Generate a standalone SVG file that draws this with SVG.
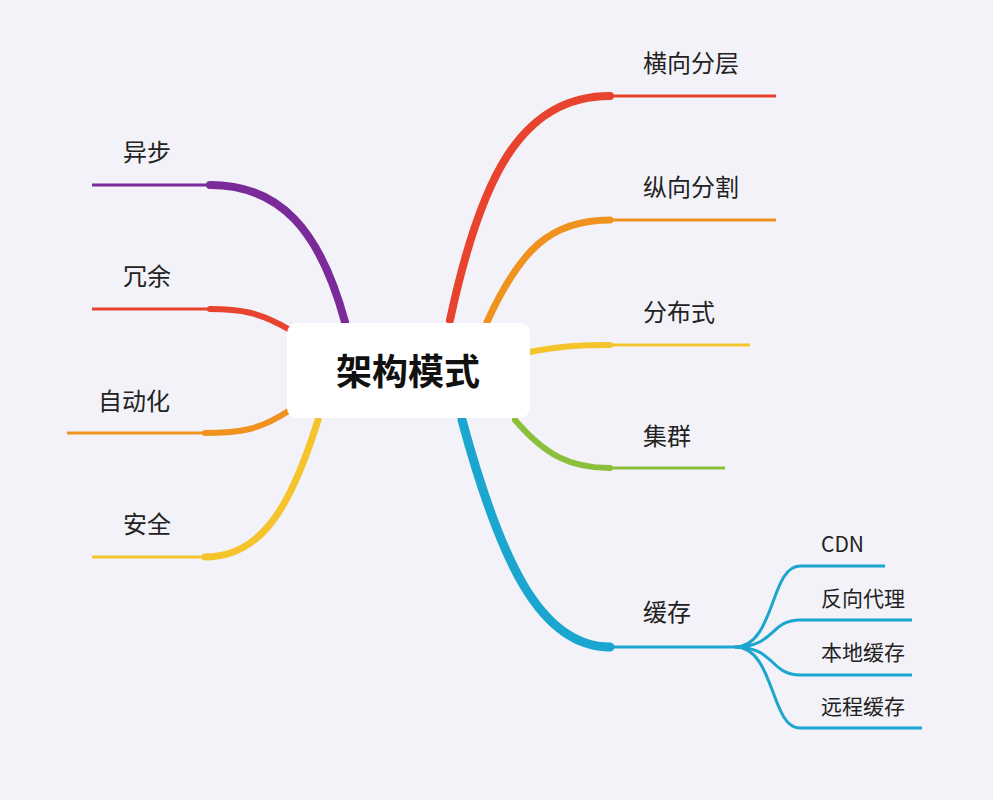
<svg xmlns="http://www.w3.org/2000/svg" width="993" height="800" viewBox="0 0 993 800">
<style>
.t{font-family:"Noto Sans CJK SC","Noto Sans",sans-serif;font-size:24px;fill:#222}
.s{font-family:"Noto Sans CJK SC","Noto Sans",sans-serif;font-size:21px;fill:#222}
.c{fill:none;stroke-linecap:round}
.l{fill:none;stroke-width:3}
</style>
<rect width="993" height="800" fill="#f3f2f8"/>
<g id="connectors">
<path class="c" d="M450,320 C480,180 520,96 610,96" stroke="#e8432f" stroke-width="8"/><path class="l" d="M608,96 H776" stroke="#e8432f"/>
<path class="c" d="M487,322 C520,250 550,220 610,220" stroke="#f0921e" stroke-width="7"/><path class="l" d="M608,220 H776" stroke="#f0921e"/>
<path class="c" d="M530,352 C560,346 580,345 610,345" stroke="#f5c42c" stroke-width="6"/><path class="l" d="M608,345 H750" stroke="#f5c42c"/>
<path class="c" d="M515,420 C545,455 570,468 610,468" stroke="#8cbf3a" stroke-width="6"/><path class="l" d="M608,468 H725" stroke="#8cbf3a"/>
<path class="c" d="M462,420 C500,560 540,647 610,647" stroke="#1aa6cf" stroke-width="9"/><path class="l" d="M608,647 H735" stroke="#1aa6cf"/>
<g stroke="#1aa6cf" class="l">
<path d="M735,647 C775,647 770,566 800,566 H885"/>
<path d="M735,647 C775,647 770,620 800,620 H912"/>
<path d="M735,647 C775,647 770,675 800,675 H912"/>
<path d="M735,647 C775,647 770,728 800,728 H922"/>
</g>
<path class="c" d="M345,322 C320,230 280,185 210,185" stroke="#7b2a9a" stroke-width="8"/><path class="l" d="M212,185 H92" stroke="#7b2a9a"/>
<path class="c" d="M290,330 C260,312 240,309 210,309" stroke="#e8432f" stroke-width="6"/><path class="l" d="M212,309 H92" stroke="#e8432f"/>
<path class="c" d="M290,410 C260,430 240,433 205,433" stroke="#f0921e" stroke-width="6"/><path class="l" d="M207,433 H67" stroke="#f0921e"/>
<path class="c" d="M318,420 C290,510 260,557 205,557" stroke="#f5c42c" stroke-width="7"/><path class="l" d="M207,557 H92" stroke="#f5c42c"/>
</g>
<g id="center"><rect x="287" y="323" width="243" height="95" rx="10" fill="#fff"/>
<text x="408" y="385" text-anchor="middle" font-family="Noto Sans CJK SC,sans-serif" font-size="36" font-weight="bold" fill="#111">架构模式</text></g>
<g id="n1"><text class="t" x="643" y="72">横向分层</text></g>
<g id="n2"><text class="t" x="643" y="196">纵向分割</text></g>
<g id="n3"><text class="t" x="643" y="321">分布式</text></g>
<g id="n4"><text class="t" x="643" y="445">集群</text></g>
<g id="n5"><text class="t" x="643" y="621">缓存</text></g>
<g id="n51"><text class="s" x="821" y="552">CDN</text></g>
<g id="n52"><text class="s" x="821" y="606">反向代理</text></g>
<g id="n53"><text class="s" x="821" y="660">本地缓存</text></g>
<g id="n54"><text class="s" x="821" y="714">远程缓存</text></g>
<g id="n6"><text class="t" x="123" y="161">异步</text></g>
<g id="n7"><text class="t" x="123" y="285">冗余</text></g>
<g id="n8"><text class="t" x="98" y="410">自动化</text></g>
<g id="n9"><text class="t" x="123" y="533">安全</text></g>
</svg>
